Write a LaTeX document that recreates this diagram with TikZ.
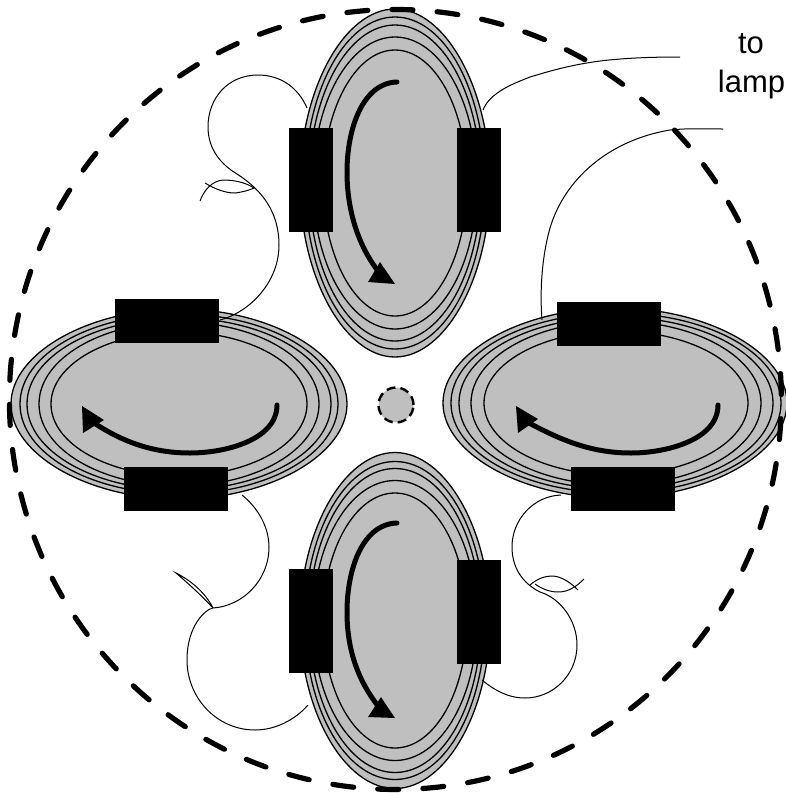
\documentclass[tikz,border=0pt]{standalone}
\usepackage{fontspec}
\setmainfont{Liberation Sans}
\definecolor{coregray}{gray}{0.75}
\tikzset{
  x=1pt,y=-1pt,
  coilring/.style={draw=black,line width=1.3pt},
  coilbody/.style={draw=black,line width=1.3pt,fill=coregray},
  blockv/.style={fill=black,draw=none,minimum width=44pt,minimum height=104pt,inner sep=0pt,outer sep=0pt},
  blockh/.style={fill=black,draw=none,minimum width=104pt,minimum height=44pt,inner sep=0pt,outer sep=0pt},
  wire/.style={draw=black,line width=1pt},
  flow/.style={draw=black,line width=5pt,line cap=round},
  flowhead/.style={fill=black,draw=none},
  rim/.style={draw=black,line width=5.2pt,line cap=round,dash pattern=on 21pt off 24.15pt},
  hubrim/.style={draw=black,line width=2.4pt,dash pattern=on 9pt off 5pt,fill=coregray},
  lamptext/.style={font=\fontsize{31}{31}\selectfont,inner sep=0pt,anchor=base},
}
\newcommand{\pointy}[6]{% cx cy rx ry k style
  \path[#6] (#1-#3,#2) .. controls (#1-#3,#2-#5*#4) and (#1-#5*#3,#2-#4) .. (#1,#2-#4)
     .. controls (#1+#5*#3,#2-#4) and (#1+#3,#2-#5*#4) .. (#1+#3,#2)
     .. controls (#1+#3,#2+#5*#4) and (#1+#5*#3,#2+#4) .. (#1,#2+#4)
     .. controls (#1-#5*#3,#2+#4) and (#1-#3,#2+#5*#4) .. (#1-#3,#2) -- cycle;
}
\begin{document}
\begin{tikzpicture}
\useasboundingbox (0,0) rectangle (785,793);
% top coil
\pointy{395}{183}{95}{174}{0.535}{coilbody}
\foreach \a/\b in {90/166,86/158,82/146,72/133}{\draw[coilring] (395,183) ellipse [x radius=\a,y radius=\b];}
% bottom coil
\pointy{395}{620.5}{95}{168}{0.535}{coilbody}
\foreach \a/\b in {90/159,86/152,82/140,72/127.5}{\draw[coilring] (395,620.5) ellipse [x radius=\a,y radius=\b];}
% left coil
\pointy{179}{404}{168}{95}{0.535}{coilbody}
\foreach \a/\b in {159/90,152/86,140/82,128/72}{\draw[coilring] (179,404) ellipse [x radius=\a,y radius=\b];}
% right coil
\pointy{615}{403}{172}{95}{0.535}{coilbody}
\foreach \a/\b in {165/90,157/86,145/82,132/72}{\draw[coilring] (616,403) ellipse [x radius=\a,y radius=\b];}
% hub
\node[circle,hubrim,minimum size=35pt,inner sep=0pt] (hub) at (396,405) {};
% blocks
\node[blockv] (tl) at (311,180) {};
\node[blockv] (tr) at (479,180) {};
\node[blockv] (bl) at (311,620.5) {};
\node[blockv] (br) at (479,611.5) {};
\node[blockh] (lt) at (167,321) {};
\node[blockh] (lb) at (176,489) {};
\node[blockh] (rt) at (609,324) {};
\node[blockh] (rb) at (623,489) {};
% flow arrows
\draw[flow] (397,82) .. controls (362,83) and (347,130) .. (347,172) .. controls (347,210) and (358,245) .. (378,271);
\fill[flowhead] (380,262) -- (368,282) -- (395,284) -- cycle;
\draw[flow] (397,523) .. controls (362,524) and (347,570) .. (347,612) .. controls (347,650) and (358,680) .. (378,706);
\fill[flowhead] (381,697) -- (368,717) -- (395,718) -- cycle;
\draw[flow] (277,405) .. controls (277,440) and (225,453) .. (190,453) .. controls (150,453) and (120,440) .. (94,423);
\fill[flowhead] (82,406) -- (83,433) -- (104,420) -- cycle;
\draw[flow] (718,405) .. controls (718,440) and (666,453) .. (631,453) .. controls (591,453) and (561,440) .. (529,423);
\fill[flowhead] (516,406) -- (518,433) -- (538,419) -- cycle;
% wires
\draw[wire] (307,108) .. controls (298,87) and (280,75) .. (258,75) .. controls (228,75) and (208,98) .. (208,127)
  .. controls (208,150) and (222,165) .. (237,174) .. controls (262,190) and (279,212) .. (279,245)
  .. controls (279,282) and (250,312) .. (220,320);
\draw[wire] (205,183) .. controls (215,189) and (225,193) .. (235,193) .. controls (243,192) and (250,190) .. (254,188)
  .. controls (245,182) and (233,180) .. (223,180) .. controls (212,181) and (204,190) .. (200,201);
\draw[wire] (483,110) .. controls (490,92) and (515,83) .. (530,77) .. controls (550,71) and (570,65) .. (600,61) .. controls (625,58) and (650,57) .. (680,57);
\draw[wire] (542,320) .. controls (540,295) and (541,260) .. (550,228) .. controls (565,178) and (610,140) .. (670,130) .. controls (690,128) and (705,129) .. (723,129);
\draw[wire] (242,495) .. controls (258,508) and (269,527) .. (269,547) .. controls (269,580) and (243,606) .. (213,608)
  .. controls (206,609) and (187,625) .. (187,660) .. controls (187,698) and (217,730) .. (255,730) .. controls (275,730) and (295,720) .. (308,705);
\draw[wire] (213,608) .. controls (205,592) and (190,580) .. (176,573) .. controls (190,585) and (202,596) .. (213,608);
\draw[wire] (561,495) .. controls (533,496) and (512,520) .. (512,547) .. controls (512,567) and (522,583) .. (540,592)
  .. controls (560,598) and (577,620) .. (577,645) .. controls (577,675) and (553,698) .. (525,698) .. controls (508,698) and (494,690) .. (482,680);
\draw[wire] (530,585) .. controls (538,578) and (546,576) .. (552,576) .. controls (562,576) and (572,584) .. (578,590);
\draw[wire] (535,584) .. controls (542,589) and (550,592) .. (558,592) .. controls (568,592) and (576,587) .. (584,579);
% rim
\draw[rim] (392,9.5) arc[start angle=-90.5,delta angle=360,x radius=386,y radius=390];
% label
\node[lamptext] (to) at (751,53) {to};
\node[lamptext] (lamp) at (751.5,92) {lamp};
\end{tikzpicture}
\end{document}
